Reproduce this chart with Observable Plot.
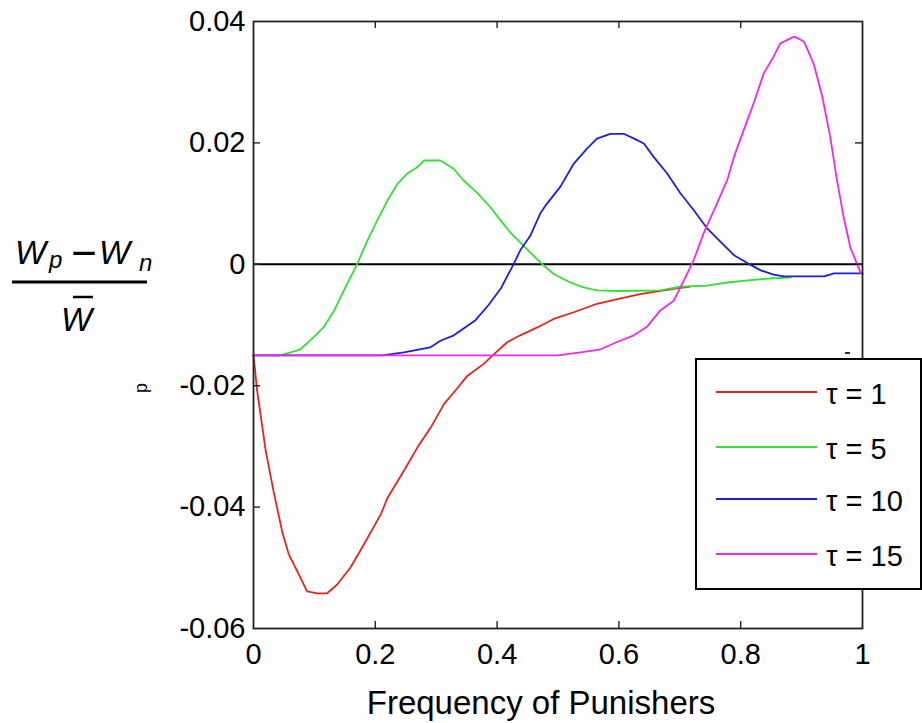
<!DOCTYPE html>
<html>
<head>
<meta charset="utf-8">
<script src="https://cdn.jsdelivr.net/npm/d3@7"></script>
<script src="https://cdn.jsdelivr.net/npm/@observablehq/plot@0.6"></script>
<style>
  html, body { margin: 0; padding: 0; background: #fff; }
  #chart { position: relative; width: 922px; height: 723px; }
  svg { font-family: "Liberation Sans", Arial, sans-serif; }
</style>
</head>
<body>
<div id="chart"></div>
<script>
// ---- data ----
const xTicks = [0, 0.2, 0.4, 0.6, 0.8, 1];
const xTickLabels = ["0", "0.2", "0.4", "0.6", "0.8", "1"];
const yTicks = [-0.06, -0.04, -0.02, 0, 0.02, 0.04];
const yTickLabels = ["-0.06", "-0.04", "-0.02", "0", "0.02", "0.04"];
const xLabel = "Frequency of Punishers";
const seriesNames = ["τ = 1", "τ = 5", "τ = 10", "τ = 15"];
const seriesColors = ["#e8231f", "#33e033", "#1f1fd6", "#ee2aee"];

const tau1X = [0, 0.006, 0.02, 0.033, 0.047, 0.058, 0.072, 0.088, 0.105, 0.121, 0.137, 0.159, 0.181, 0.209, 0.22, 0.247, 0.269, 0.291, 0.313, 0.334, 0.35, 0.378, 0.395, 0.417, 0.438, 0.466, 0.493, 0.526, 0.564, 0.603, 0.635, 0.655, 0.68, 0.7, 0.716];
const tau1Y = [-0.015, -0.0208, -0.0307, -0.0374, -0.044, -0.0478, -0.0506, -0.0539, -0.0542, -0.0542, -0.0528, -0.05, -0.0462, -0.0412, -0.0385, -0.034, -0.0302, -0.0269, -0.023, -0.0205, -0.0185, -0.0164, -0.0148, -0.0128, -0.0117, -0.0104, -0.009, -0.0079, -0.0065, -0.0056, -0.0049, -0.0046, -0.0042, -0.0039, -0.0037];

const tau5X = [0, 0.044, 0.061, 0.077, 0.099, 0.115, 0.132, 0.148, 0.17, 0.187, 0.203, 0.22, 0.236, 0.252, 0.269, 0.28, 0.307, 0.329, 0.345, 0.367, 0.389, 0.406, 0.422, 0.444, 0.471, 0.493, 0.52, 0.542, 0.564, 0.6, 0.668, 0.701, 0.745, 0.778, 0.816, 0.854, 0.882];
const tau5Y = [-0.015, -0.015, -0.0145, -0.014, -0.012, -0.0104, -0.0077, -0.0044, 0, 0.0039, 0.0072, 0.0105, 0.0132, 0.0149, 0.016, 0.0171, 0.0171, 0.0157, 0.0138, 0.0118, 0.0094, 0.0072, 0.0052, 0.003, 0.0003, -0.0016, -0.003, -0.0038, -0.0043, -0.0044, -0.0043, -0.0037, -0.0035, -0.003, -0.0026, -0.0023, -0.0022];

const tau10X = [0, 0.211, 0.247, 0.29, 0.307, 0.329, 0.3645, 0.386, 0.406, 0.427, 0.438, 0.455, 0.471, 0.482, 0.504, 0.526, 0.548, 0.564, 0.586, 0.608, 0.625, 0.641, 0.657, 0.679, 0.701, 0.723, 0.745, 0.767, 0.789, 0.811, 0.833, 0.854, 0.871, 0.937, 0.953, 1.0];
const tau10Y = [-0.015, -0.015, -0.0145, -0.0137, -0.0126, -0.0117, -0.0092, -0.0067, -0.004, 0, 0.0023, 0.0048, 0.0084, 0.01, 0.0128, 0.0166, 0.0191, 0.0207, 0.0215, 0.0215, 0.0207, 0.0199, 0.0177, 0.015, 0.0117, 0.0089, 0.0059, 0.0037, 0.0015, 0.0002, -0.001, -0.0017, -0.002, -0.002, -0.0015, -0.0015];

const tau15X = [0, 0.499, 0.537, 0.57, 0.597, 0.6245, 0.646, 0.668, 0.69, 0.707, 0.723, 0.739, 0.761, 0.778, 0.789, 0.805, 0.8215, 0.838, 0.854, 0.865, 0.888, 0.904, 0.92, 0.934, 0.947, 0.958, 0.969, 0.98, 0.997, 1.0];
const tau15Y = [-0.015, -0.015, -0.0145, -0.014, -0.0128, -0.0117, -0.0103, -0.0076, -0.006, -0.0026, 0.0007, 0.0051, 0.01, 0.0139, 0.0177, 0.0221, 0.0266, 0.0315, 0.0342, 0.0364, 0.0375, 0.0367, 0.033, 0.0276, 0.021, 0.0139, 0.0078, 0.0028, -0.0014, -0.0015];

// ---- build ----
const seriesXs = [tau1X, tau5X, tau10X, tau15X];
const seriesYs = [tau1Y, tau5Y, tau10Y, tau15Y];
const series = seriesXs.map((xs, i) => xs.map((x, j) => ({x, y: seriesYs[i][j], name: seriesNames[i]})));

const W = 922, H = 723;
const mL = 253, mR = 60, mT = 21, mB = 95;
const innerW = W - mL - mR, innerH = H - mT - mB;
const tickLen = 7;
const interiorX = xTicks.slice(1, -1);
const interiorY = yTicks.slice(1, -1);
const font = "Liberation Sans, Arial, sans-serif";

const chart = Plot.plot({
  width: W, height: H,
  marginLeft: mL, marginRight: mR, marginTop: mT, marginBottom: mB,
  style: {fontFamily: font, color: "#000", background: "#fff", overflow: "visible"},
  x: {domain: [0, 1]},
  y: {domain: [-0.06, 0.04]},
  marks: [
    Plot.ruleY([0], {stroke: "#000", strokeWidth: 2}),
    ...series.map((s, i) => Plot.line(s, {x: "x", y: "y", stroke: seriesColors[i], strokeWidth: 1.8})),
    Plot.frame({stroke: "#222", strokeWidth: 1.8}),
    Plot.tickX(interiorX, {x: d => d, insetTop: innerH - tickLen, stroke: "#222", strokeWidth: 1.4}),
    Plot.tickX(interiorX, {x: d => d, insetBottom: innerH - tickLen, stroke: "#222", strokeWidth: 1.4}),
    Plot.tickY(interiorY, {y: d => d, insetRight: innerW - tickLen, stroke: "#222", strokeWidth: 1.4}),
    Plot.tickY(interiorY, {y: d => d, insetLeft: innerW - tickLen, stroke: "#222", strokeWidth: 1.4}),
    Plot.axisX({ticks: xTicks, tickSize: 0, tickPadding: 15, fontSize: 29, label: null,
      tickFormat: d => xTickLabels[xTicks.indexOf(d)]}),
    Plot.axisY({ticks: yTicks, tickSize: 0, tickPadding: 8, fontSize: 29, label: null,
      tickFormat: d => yTickLabels[yTicks.findIndex(t => Math.abs(t - d) < 1e-9)]})
  ]
});
document.getElementById("chart").appendChild(chart);

const svg = d3.select(chart);
const T = (x, y, size, txt, anchor = "start", italic = false) =>
  svg.append("text").attr("x", x).attr("y", y).attr("font-size", size)
    .attr("text-anchor", anchor).attr("font-style", italic ? "italic" : "normal")
    .attr("fill", "#000").text(txt);

// x label
T(541, 714, 33, xLabel, "middle");

// stray rotated "p"
svg.append("text").attr("transform", "translate(147,393) rotate(-90)")
  .attr("text-anchor", "start").attr("font-size", 18).attr("fill", "#000").text("p");

// y label fraction
T(15, 264, 33, "W", "start", true);
T(49, 268, 24, "p", "start", true);
T(84, 268, 44, "\u2212", "middle");
T(99, 264, 33, "W", "start", true);
T(139, 271, 24, "n", "start", true);
svg.append("line").attr("x1", 12).attr("x2", 147).attr("y1", 282).attr("y2", 282)
  .attr("stroke", "#000").attr("stroke-width", 3);
T(61, 331, 33, "W", "start", true);
svg.append("line").attr("x1", 73).attr("x2", 93).attr("y1", 297).attr("y2", 297)
  .attr("stroke", "#000").attr("stroke-width", 2.5);

// small stray dash above the legend
svg.append("line").attr("x1", 845).attr("x2", 850).attr("y1", 353).attr("y2", 353)
  .attr("stroke", "#333").attr("stroke-width", 2);

// legend
svg.append("rect").attr("x", 696).attr("y", 359).attr("width", 225).attr("height", 230)
  .attr("fill", "#fff").attr("stroke", "#000").attr("stroke-width", 2);
const rowY = [392, 447, 499, 554];
seriesNames.forEach((name, i) => {
  svg.append("line").attr("x1", 716).attr("x2", 817).attr("y1", rowY[i]).attr("y2", rowY[i])
    .attr("stroke", seriesColors[i]).attr("stroke-width", 1.8);
  T(826, rowY[i] + 12, 29, name, "start");
});
</script>
</body>
</html>
